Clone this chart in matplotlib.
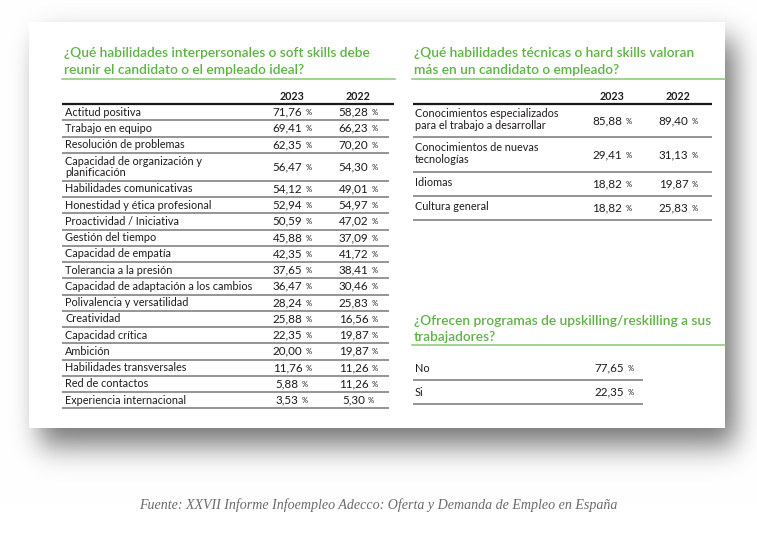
import numpy as np
import matplotlib
matplotlib.use("Agg")
import matplotlib.pyplot as plt

# ---------------- data ----------------
years = ["2023", "2022"]

soft_title = ["¿Qué habilidades interpersonales o soft skills debe",
              "reunir el candidato o el empleado ideal?"]
soft_skills = [
    "Actitud positiva", "Trabajo en equipo", "Resolución de problemas",
    "Capacidad de organización y\nplanificación", "Habilidades comunicativas",
    "Honestidad y ética profesional", "Proactividad / Iniciativa", "Gestión del tiempo",
    "Capacidad de empatía", "Tolerancia a la presión",
    "Capacidad de adaptación a los cambios", "Polivalencia y versatilidad",
    "Creatividad", "Capacidad crítica", "Ambición", "Habilidades transversales",
    "Red de contactos", "Experiencia internacional",
]
soft_2023 = [71.76, 69.41, 62.35, 56.47, 54.12, 52.94, 50.59, 45.88, 42.35,
             37.65, 36.47, 28.24, 25.88, 22.35, 20.00, 11.76, 5.88, 3.53]
soft_2022 = [58.28, 66.23, 70.20, 54.30, 49.01, 54.97, 47.02, 37.09, 41.72,
             38.41, 30.46, 25.83, 16.56, 19.87, 19.87, 11.26, 11.26, 5.30]

hard_title = ["¿Qué habilidades técnicas o hard skills valoran",
              "más en un candidato o empleado?"]
hard_skills = ["Conocimientos especializados\npara el trabajo a desarrollar",
               "Conocimientos de nuevas\ntecnologías", "Idiomas", "Cultura general"]
hard_2023 = [85.88, 29.41, 18.82, 18.82]
hard_2022 = [89.40, 31.13, 19.87, 25.83]

up_title = ["¿Ofrecen programas de upskilling/reskilling a sus",
            "trabajadores?"]
up_labels = ["No", "Si"]
up_values = [77.65, 22.35]

source = "Fuente: XXVII Informe Infoempleo Adecco: Oferta y Demanda de Empleo en España"

# ---------------- style ----------------
W, H = 757, 533
SANS = ["Lato", "DejaVu Sans"]
GREEN = "#5cb343"
GREEN_LINE = "#86c873"
TXT = "#1e1b1c"
SEP = "#8c8c8c"

fig = plt.figure(figsize=(W / 100, H / 100), dpi=100)
ax = fig.add_axes([0, 0, 1, 1])
ax.set_xlim(0, W)
ax.set_ylim(H, 0)
ax.axis("off")
renderer = fig.canvas.get_renderer()


def width_of(t):
    return t.get_window_extent(renderer).width


def fit(text, target, size, **kw):
    t = ax.text(0, -100, text, fontsize=size, **kw)
    w = width_of(t)
    t.remove()
    return size * target / w


# ---------------- shadow + card ----------------
def blur1d(n, a, b, sigma):
    x = np.arange(n)
    box = ((x >= a) & (x <= b)).astype(float)
    k = np.arange(-4 * sigma, 4 * sigma + 1)
    g = np.exp(-0.5 * (k / sigma) ** 2)
    g /= g.sum()
    return np.convolve(box, g, mode="same")

sx = blur1d(W, 40, 734, 13)
sy = blur1d(H, 40, 444, 15)
shadow = np.outer(sy, sx)
img = 1 - 0.55 * shadow
ax.imshow(np.dstack([img] * 3), extent=[0, W, H, 0], zorder=0, aspect="auto")
ax.add_patch(plt.Rectangle((29, 22), 725 - 29, 428 - 22, facecolor="white",
                           edgecolor="none", zorder=1))

# ---------------- font sizes ----------------
fs_title = fit(soft_title[0], 307, 10, family=SANS, weight="semibold")
fs_label = fit("Capacidad de adaptación a los cambios", 187, 8, family=SANS)
fs_num = fit("71,76", 30, 8, family=SANS)
fs_head = fit("2023", 25, 8, family=SANS, weight="bold")
fs_pct = fs_num * 0.65
fs_src = fit(source, 476, 9, family=["Liberation Serif"], style="italic")


def value(xc, y, v):
    s = f"{v:.2f}".replace(".", ",")
    t1 = ax.text(0, y, s, fontsize=fs_num, family=SANS, color=TXT,
                 ha="left", va="center", zorder=3)
    t2 = ax.text(0, y + 0.5, "%", fontsize=fs_pct, family=SANS, color=TXT,
                 ha="left", va="center", zorder=3)
    w1, w2 = width_of(t1), width_of(t2)
    gap = 3
    x0 = xc - (w1 + gap + w2) / 2
    t1.set_x(x0)
    t2.set_x(x0 + w1 + gap)


def title(x, ys, lines, line_x1, line_y):
    for yy, s in zip(ys, lines):
        ax.text(x, yy, s, fontsize=fs_title, family=SANS, weight="semibold",
                color=GREEN, ha="left", va="center", zorder=3)
    ax.plot([x - 2, line_x1], [line_y, line_y], color=GREEN_LINE, lw=1.1, zorder=3)


def hline(x0, x1, y, color=SEP, lw=1.3):
    ax.plot([x0, x1], [y, y], color=color, lw=lw, zorder=2, solid_capstyle="butt")


# ---------------- left table ----------------
LX = 64
title(LX, [53, 69.5], soft_title, 395, 79)
col_left = [292, 358]
for xc, yr in zip(col_left, years):
    ax.text(xc, 96, yr, fontsize=fs_head, family=SANS, weight="bold",
            color=TXT, ha="center", va="center", zorder=3)
hline(62, 394, 104, color="#1a1a1a", lw=1.6)
y = 104
for lab, a, b in zip(soft_skills, soft_2023, soft_2022):
    h = 28 if "\n" in lab else 16.25
    yc = y + h / 2
    ax.text(LX + 1, yc, lab, fontsize=fs_label, family=SANS, color=TXT,
            ha="left", va="center", linespacing=0.95, zorder=3)
    value(col_left[0], yc, a)
    value(col_left[1], yc, b)
    y += h
    hline(62, 389, y)

# ---------------- right table ----------------
RX = 414
title(RX, [53, 69.5], hard_title, 725, 79)
col_right = [612, 678]
for xc, yr in zip(col_right, years):
    ax.text(xc, 96, yr, fontsize=fs_head, family=SANS, weight="bold",
            color=TXT, ha="center", va="center", zorder=3)
hline(413, 712, 104, color="#1a1a1a", lw=1.6)
row_h = [33, 35, 24, 24]
y = 104
for lab, a, b, h in zip(hard_skills, hard_2023, hard_2022, row_h):
    yc = y + h / 2
    ax.text(RX + 1, yc - 1, lab, fontsize=fs_label, family=SANS, color=TXT,
            ha="left", va="center", linespacing=1.15, zorder=3)
    value(col_right[0], yc, a)
    value(col_right[1], yc, b)
    y += h
    hline(413, 712, y)

# ---------------- upskilling ----------------
title(RX, [321, 337], up_title, 725, 345)
y = 356
for lab, v in zip(up_labels, up_values):
    yc = y + 12
    ax.text(RX + 1, yc, lab, fontsize=fs_label, family=SANS, color=TXT,
            ha="left", va="center", zorder=3)
    value(614, yc, v)
    y += 24
    hline(413, 643, y)

# ---------------- source ----------------
ax.text(W / 2, 505, source, fontsize=fs_src, family=["Liberation Serif"],
        style="italic", color="#6b6b6b", ha="center", va="center", zorder=3)

fig.savefig("out.png", dpi=100)
